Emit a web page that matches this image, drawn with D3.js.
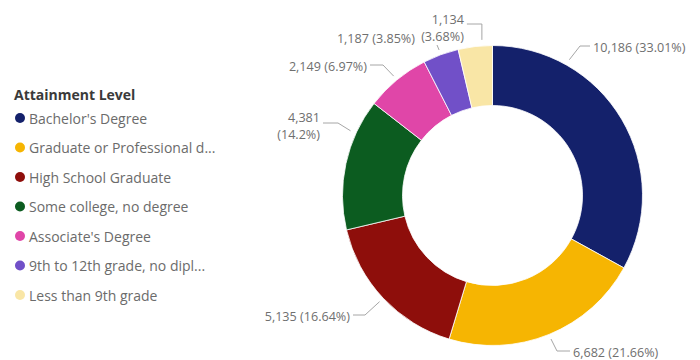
<!DOCTYPE html>
<html>
<head>
<meta charset="utf-8">
<script src="https://cdn.jsdelivr.net/npm/d3@7"></script>
<style>
  html, body { margin: 0; padding: 0; background: #ffffff; }
  svg { display: block; font-family: "Segoe UI", "Open Sans", "Noto Sans", sans-serif; }
</style>
</head>
<body>
<svg id="chart" width="700" height="360"></svg>
<script>
// Educational attainment counts, in slice order (clockwise from 12 o'clock)
const categories = [
  "Bachelor's Degree",
  "Graduate or Professional degree",
  "High School Graduate",
  "Some college, no degree",
  "Associate's Degree",
  "9th to 12th grade, no diploma",
  "Less than 9th grade"
];
const values = [10186, 6682, 5135, 4381, 2149, 1187, 1134];
// Legend entries as shown (long names are cut to fit the legend width)
const legendLabels = [
  "Bachelor's Degree",
  "Graduate or Professional d...",
  "High School Graduate",
  "Some college, no degree",
  "Associate's Degree",
  "9th to 12th grade, no dipl...",
  "Less than 9th grade"
];
const colors = ["#14216b", "#f6b502", "#8e0e0b", "#0c5c20", "#e046a8", "#7150c8", "#f9e6a6"];
const legendTitle = "Attainment Level";

// Placement of the data labels around the ring (angles in degrees from 12 o'clock,
// elbow offsets relative to the ring centre, text side / wrapping)
const labelLayout = [
  { angle: 29.5,  elbow: [87.5, -149.5], dir: 1,  wrap: false, seg: 10 },
  { angle: null,  elbow: [64.5, 155.5],  dir: 1,  wrap: false, seg: 13 },
  { angle: null,  elbow: [-127.5, 119.5], dir: -1, wrap: false, seg: 12 },
  { angle: 294.5, elbow: [-154.5, -72.5], dir: -1, wrap: true,  seg: 15 },
  { angle: null,  elbow: [-109.5, -130.5], dir: -1, wrap: false, seg: 13 },
  { angle: null,  elbow: [-55.5, -150.5], dir: -1, wrap: false, seg: 0, text: [-77.5, -158.5] },
  { angle: 356.1, elbow: [-10.5, -171.5], dir: -1, wrap: true,  seg: 15, up: true }
];

const svg = d3.select("#chart");
const cx = 492.5, cy = 195.5, R = 150, r = 90;

const total = d3.sum(values);
const fmtNum = d3.format(",");
const fmtPct = d3.format(".2~f");

const pie = d3.pie().sort(null).value(d => d.value).startAngle(0).endAngle(2 * Math.PI);
const data = categories.map((c, i) => ({ name: c, value: values[i], color: colors[i], i }));
const arcs = pie(data);

const arc = d3.arc().innerRadius(r).outerRadius(R);

const ring = svg.append("g").attr("transform", `translate(${cx},${cy})`);
ring.selectAll("path.slice")
  .data(arcs)
  .join("path")
  .attr("class", "slice")
  .attr("d", arc)
  .attr("fill", d => d.data.color)
  .attr("stroke", "#ffffff")
  .attr("stroke-width", 0.8);

// Data labels with leader lines
const polar = (deg, rad) => {
  const a = deg * Math.PI / 180;
  return [rad * Math.sin(a), -rad * Math.cos(a)];
};
const lineGen = d3.line();
const labelG = ring.append("g");

arcs.forEach((d, i) => {
  const L = labelLayout[i];
  const mid = (d.startAngle + d.endAngle) / 2 * 180 / Math.PI;
  const ang = L.angle == null ? mid : L.angle;
  const start = polar(ang, R + (L.angle == null ? 5 : 6));
  const elbow = L.elbow;

  // Leader for the last slice runs straight up, then turns left
  let path;
  if (L.up) {
    const top = [start[0], elbow[1]];
    path = [start, top, [top[0] - L.seg, top[1]]];
  } else {
    path = [start, elbow, [elbow[0] + L.dir * L.seg, elbow[1]]];
  }
  labelG.append("path")
    .attr("d", lineGen(path))
    .attr("fill", "none")
    .attr("stroke", "#a6a6a6")
    .attr("stroke-width", 1);

  const num = fmtNum(d.data.value);
  const pct = "(" + fmtPct(d.data.value / total * 100) + "%)";
  const anchor = L.dir > 0 ? "start" : "end";
  const last = path[path.length - 1];
  let tx = last[0] + L.dir * 3;
  let ty = last[1];
  if (L.text) { tx = L.text[0]; ty = L.text[1]; }

  const t = labelG.append("text")
    .attr("text-anchor", anchor)
    .attr("fill", "#6f6f6f")
    .attr("font-size", 12.6);
  if (L.wrap) {
    const firstDy = L.up ? -5 : -5.5;
    t.append("tspan").attr("x", tx).attr("y", ty + firstDy).attr("dominant-baseline", "central").text(num);
    t.append("tspan").attr("x", tx).attr("y", ty + firstDy + 17).attr("dominant-baseline", "central").text(pct);
  } else {
    t.attr("x", tx).attr("y", ty + 1).attr("dominant-baseline", "central").text(num + " " + pct);
  }
});

// Legend
const legend = svg.append("g").attr("transform", "translate(14,0)");
legend.append("text")
  .attr("x", 0).attr("y", 94)
  .attr("dominant-baseline", "central")
  .attr("font-size", 14)
  .attr("font-weight", "bold")
  .attr("fill", "#3a3a3a")
  .text(legendTitle);

const ly = d3.scalePoint().domain(d3.range(categories.length)).range([118, 295]);
const items = legend.selectAll("g.item")
  .data(data)
  .join("g")
  .attr("class", "item")
  .attr("transform", d => `translate(0,${ly(d.i)})`);
items.append("circle")
  .attr("cx", 6).attr("cy", 0).attr("r", 5)
  .attr("fill", d => d.color);
items.append("text")
  .attr("x", 15).attr("y", 0)
  .attr("dominant-baseline", "central")
  .attr("font-size", 14)
  .attr("fill", "#6b6b6b")
  .text(d => legendLabels[d.i]);
</script>
</body>
</html>
